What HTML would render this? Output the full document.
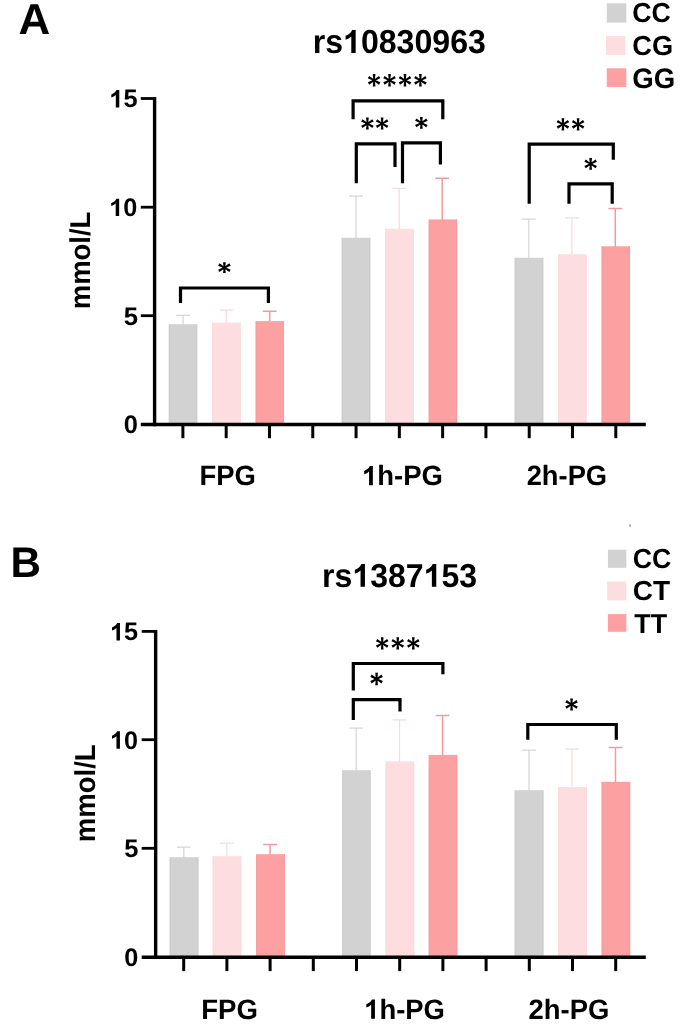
<!DOCTYPE html>
<html><head><meta charset="utf-8"><title>Figure</title>
<style>
html,body{margin:0;padding:0;background:#fff;}
body{width:685px;height:1032px;overflow:hidden;font-family:"Liberation Sans",sans-serif;}
svg{display:block;will-change:transform;}
svg text{font-family:"Liberation Sans",sans-serif;font-weight:700;fill:#000;text-rendering:geometricPrecision;}
</style></head><body>
<svg width="685" height="1032" viewBox="0 0 685 1032">
<rect width="685" height="1032" fill="#fff"/>
<rect x="606.80" y="3.30" width="19.50" height="19.30" fill="#d2d2d2"/>
<rect x="606.00" y="36.10" width="19.30" height="18.80" fill="#feDDe0"/>
<rect x="606.80" y="68.30" width="19.50" height="18.70" fill="#fda0a1"/>
<rect x="607.90" y="549.70" width="18.40" height="18.10" fill="#d2d2d2"/>
<rect x="607.20" y="581.50" width="19.10" height="18.80" fill="#feDDe0"/>
<rect x="607.90" y="614.10" width="18.40" height="17.70" fill="#fda0a1"/>
<path d="M183.10 324.70V315.30M176.20 315.30H190.00" stroke="#d6d6d6" stroke-width="1.25" fill="none"/>
<rect x="168.80" y="324.20" width="28.40" height="100.30" fill="#d2d2d2"/>
<path d="M169.25 324.20V424.50M196.75 324.20V424.50" stroke="#c4c4c4" stroke-width="0.9" stroke-opacity="0.6" fill="none"/>
<path d="M226.30 323.20V310.20M219.40 310.20H233.20" stroke="#fbd9dc" stroke-width="1.25" fill="none"/>
<rect x="212.20" y="322.70" width="28.50" height="101.80" fill="#feDDe0"/>
<path d="M212.65 322.70V424.50M240.25 322.70V424.50" stroke="#f8d2d6" stroke-width="0.9" stroke-opacity="0.6" fill="none"/>
<path d="M269.70 321.60V311.20M262.80 311.20H276.60" stroke="#f29a9e" stroke-width="1.5" fill="none"/>
<rect x="255.60" y="321.10" width="28.40" height="103.40" fill="#fda0a1"/>
<path d="M256.05 321.10V424.50M283.55 321.10V424.50" stroke="#ee9498" stroke-width="0.9" stroke-opacity="0.6" fill="none"/>
<path d="M356.00 238.30V196.20M349.10 196.20H362.90" stroke="#d6d6d6" stroke-width="1.25" fill="none"/>
<rect x="341.70" y="237.80" width="28.60" height="186.70" fill="#d2d2d2"/>
<path d="M342.15 237.80V424.50M369.85 237.80V424.50" stroke="#c4c4c4" stroke-width="0.9" stroke-opacity="0.6" fill="none"/>
<path d="M399.20 229.30V188.40M392.30 188.40H406.10" stroke="#fbd9dc" stroke-width="1.25" fill="none"/>
<rect x="385.20" y="228.80" width="28.60" height="195.70" fill="#feDDe0"/>
<path d="M385.65 228.80V424.50M413.35 228.80V424.50" stroke="#f8d2d6" stroke-width="0.9" stroke-opacity="0.6" fill="none"/>
<path d="M442.20 219.90V178.20M435.30 178.20H449.10" stroke="#f29a9e" stroke-width="1.5" fill="none"/>
<rect x="428.70" y="219.40" width="28.40" height="205.10" fill="#fda0a1"/>
<path d="M429.15 219.40V424.50M456.65 219.40V424.50" stroke="#ee9498" stroke-width="0.9" stroke-opacity="0.6" fill="none"/>
<path d="M528.80 258.30V219.20M521.90 219.20H535.70" stroke="#d6d6d6" stroke-width="1.25" fill="none"/>
<rect x="514.70" y="257.80" width="28.60" height="166.70" fill="#d2d2d2"/>
<path d="M515.15 257.80V424.50M542.85 257.80V424.50" stroke="#c4c4c4" stroke-width="0.9" stroke-opacity="0.6" fill="none"/>
<path d="M571.90 254.80V217.80M565.00 217.80H578.80" stroke="#fbd9dc" stroke-width="1.25" fill="none"/>
<rect x="558.20" y="254.30" width="28.40" height="170.20" fill="#feDDe0"/>
<path d="M558.65 254.30V424.50M586.15 254.30V424.50" stroke="#f8d2d6" stroke-width="0.9" stroke-opacity="0.6" fill="none"/>
<path d="M615.30 246.80V208.60M608.40 208.60H622.20" stroke="#f29a9e" stroke-width="1.5" fill="none"/>
<rect x="601.60" y="246.30" width="28.40" height="178.20" fill="#fda0a1"/>
<path d="M602.05 246.30V424.50M629.55 246.30V424.50" stroke="#ee9498" stroke-width="0.9" stroke-opacity="0.6" fill="none"/>
<path d="M154.60 97.05L154.60 426.20" stroke="#000" stroke-width="3.4" fill="none"/>
<path d="M140.80 424.50L645.80 424.50" stroke="#000" stroke-width="3.4" fill="none"/>
<path d="M140.80 98.50L154.60 98.50" stroke="#000" stroke-width="2.8" fill="none"/>
<path d="M140.80 207.20L154.60 207.20" stroke="#000" stroke-width="2.8" fill="none"/>
<path d="M140.80 315.70L154.60 315.70" stroke="#000" stroke-width="2.8" fill="none"/>
<path d="M182.90 424.50L182.90 438.20" stroke="#000" stroke-width="3" fill="none"/>
<path d="M226.19 424.50L226.19 438.20" stroke="#000" stroke-width="3" fill="none"/>
<path d="M269.48 424.50L269.48 438.20" stroke="#000" stroke-width="3" fill="none"/>
<path d="M312.77 424.50L312.77 438.20" stroke="#000" stroke-width="3" fill="none"/>
<path d="M356.06 424.50L356.06 438.20" stroke="#000" stroke-width="3" fill="none"/>
<path d="M399.35 424.50L399.35 438.20" stroke="#000" stroke-width="3" fill="none"/>
<path d="M442.64 424.50L442.64 438.20" stroke="#000" stroke-width="3" fill="none"/>
<path d="M485.93 424.50L485.93 438.20" stroke="#000" stroke-width="3" fill="none"/>
<path d="M529.22 424.50L529.22 438.20" stroke="#000" stroke-width="3" fill="none"/>
<path d="M572.51 424.50L572.51 438.20" stroke="#000" stroke-width="3" fill="none"/>
<path d="M615.80 424.50L615.80 438.20" stroke="#000" stroke-width="3" fill="none"/>
<path d="M180.50 303.10V288.00H268.40V303.10" stroke="#000" stroke-width="3.2" fill="none" stroke-linejoin="miter"/>
<path d="M353.10 119.30V100.80H442.80V119.30" stroke="#000" stroke-width="3.2" fill="none" stroke-linejoin="miter"/>
<path d="M356.30 183.20V143.80H395.00V167.00" stroke="#000" stroke-width="3.2" fill="none" stroke-linejoin="miter"/>
<path d="M402.50 183.20V142.90H440.40V164.40" stroke="#000" stroke-width="3.2" fill="none" stroke-linejoin="miter"/>
<path d="M529.20 203.80V144.10H613.30V159.70" stroke="#000" stroke-width="3.2" fill="none" stroke-linejoin="miter"/>
<path d="M569.00 203.80V183.80H612.20V203.80" stroke="#000" stroke-width="3.2" fill="none" stroke-linejoin="miter"/>
<path d="M225.15 267.70L225.75 262.30L223.05 262.30L223.65 267.70ZM224.77 268.35L230.67 265.64L229.32 263.30L224.02 267.05ZM224.77 267.05L219.47 263.30L218.12 265.64L224.02 268.35ZM223.65 267.70L223.05 273.10L225.75 273.10L225.15 267.70ZM224.02 267.05L218.12 269.76L219.47 272.10L224.77 268.35ZM224.02 268.35L229.32 272.10L230.67 269.76L224.77 267.05Z" fill="#000"/><circle cx="224.40" cy="267.70" r="1.9" fill="#000"/>
<path d="M374.85 80.30L375.45 74.00L372.75 74.00L373.35 80.30ZM374.47 80.95L380.38 78.24L379.02 75.90L373.72 79.65ZM374.47 79.65L369.17 75.90L367.82 78.24L373.72 80.95ZM373.35 80.30L372.75 86.60L375.45 86.60L374.85 80.30ZM373.72 79.65L367.82 82.36L369.17 84.70L374.47 80.95ZM373.72 80.95L379.02 84.70L380.38 82.36L374.47 79.65Z" fill="#000"/><circle cx="374.10" cy="80.30" r="1.9" fill="#000"/>
<path d="M390.28 80.30L390.88 74.00L388.18 74.00L388.78 80.30ZM389.91 80.95L395.81 78.24L394.46 75.90L389.16 79.65ZM389.91 79.65L384.61 75.90L383.26 78.24L389.16 80.95ZM388.78 80.30L388.18 86.60L390.88 86.60L390.28 80.30ZM389.16 79.65L383.26 82.36L384.61 84.70L389.91 80.95ZM389.16 80.95L394.46 84.70L395.81 82.36L389.91 79.65Z" fill="#000"/><circle cx="389.53" cy="80.30" r="1.9" fill="#000"/>
<path d="M405.72 80.30L406.32 74.00L403.62 74.00L404.22 80.30ZM405.34 80.95L411.24 78.24L409.89 75.90L404.59 79.65ZM405.34 79.65L400.04 75.90L398.69 78.24L404.59 80.95ZM404.22 80.30L403.62 86.60L406.32 86.60L405.72 80.30ZM404.59 79.65L398.69 82.36L400.04 84.70L405.34 80.95ZM404.59 80.95L409.89 84.70L411.24 82.36L405.34 79.65Z" fill="#000"/><circle cx="404.97" cy="80.30" r="1.9" fill="#000"/>
<path d="M421.15 80.30L421.75 74.00L419.05 74.00L419.65 80.30ZM420.78 80.95L426.68 78.24L425.33 75.90L420.03 79.65ZM420.78 79.65L415.48 75.90L414.12 78.24L420.03 80.95ZM419.65 80.30L419.05 86.60L421.75 86.60L421.15 80.30ZM420.03 79.65L414.12 82.36L415.48 84.70L420.78 80.95ZM420.03 80.95L425.33 84.70L426.68 82.36L420.78 79.65Z" fill="#000"/><circle cx="420.40" cy="80.30" r="1.9" fill="#000"/>
<path d="M368.15 123.60L368.75 117.60L366.05 117.60L366.65 123.60ZM367.77 124.25L373.68 121.54L372.32 119.20L367.02 122.95ZM367.77 122.95L362.47 119.20L361.12 121.54L367.02 124.25ZM366.65 123.60L366.05 129.60L368.75 129.60L368.15 123.60ZM367.02 122.95L361.12 125.66L362.47 128.00L367.77 124.25ZM367.02 124.25L372.32 128.00L373.68 125.66L367.77 122.95Z" fill="#000"/><circle cx="367.40" cy="123.60" r="1.9" fill="#000"/>
<path d="M382.85 123.60L383.45 117.60L380.75 117.60L381.35 123.60ZM382.48 124.25L388.38 121.54L387.03 119.20L381.73 122.95ZM382.48 122.95L377.18 119.20L375.82 121.54L381.73 124.25ZM381.35 123.60L380.75 129.60L383.45 129.60L382.85 123.60ZM381.73 122.95L375.82 125.66L377.18 128.00L382.48 124.25ZM381.73 124.25L387.03 128.00L388.38 125.66L382.48 122.95Z" fill="#000"/><circle cx="382.10" cy="123.60" r="1.9" fill="#000"/>
<path d="M422.10 122.90L422.70 117.00L420.00 117.00L420.60 122.90ZM421.73 123.55L427.63 120.84L426.28 118.50L420.98 122.25ZM421.73 122.25L416.43 118.50L415.07 120.84L420.98 123.55ZM420.60 122.90L420.00 128.80L422.70 128.80L422.10 122.90ZM420.98 122.25L415.07 124.96L416.43 127.30L421.73 123.55ZM420.98 123.55L426.28 127.30L427.63 124.96L421.73 122.25Z" fill="#000"/><circle cx="421.35" cy="122.90" r="1.9" fill="#000"/>
<path d="M563.65 124.30L564.25 118.20L561.55 118.20L562.15 124.30ZM563.28 124.95L569.18 122.24L567.83 119.90L562.53 123.65ZM563.28 123.65L557.98 119.90L556.63 122.24L562.53 124.95ZM562.15 124.30L561.55 130.40L564.25 130.40L563.65 124.30ZM562.53 123.65L556.63 126.36L557.98 128.70L563.28 124.95ZM562.53 124.95L567.83 128.70L569.18 126.36L563.28 123.65Z" fill="#000"/><circle cx="562.90" cy="124.30" r="1.9" fill="#000"/>
<path d="M578.85 124.30L579.45 118.20L576.75 118.20L577.35 124.30ZM578.48 124.95L584.38 122.24L583.03 119.90L577.73 123.65ZM578.48 123.65L573.17 119.90L571.83 122.24L577.73 124.95ZM577.35 124.30L576.75 130.40L579.45 130.40L578.85 124.30ZM577.73 123.65L571.83 126.36L573.17 128.70L578.48 124.95ZM577.73 124.95L583.03 128.70L584.38 126.36L578.48 123.65Z" fill="#000"/><circle cx="578.10" cy="124.30" r="1.9" fill="#000"/>
<path d="M591.40 163.90L592.00 158.00L589.30 158.00L589.90 163.90ZM591.02 164.55L596.92 161.84L595.58 159.50L590.27 163.25ZM591.02 163.25L585.72 159.50L584.38 161.84L590.27 164.55ZM589.90 163.90L589.30 169.80L592.00 169.80L591.40 163.90ZM590.27 163.25L584.38 165.96L585.72 168.30L591.02 164.55ZM590.27 164.55L595.58 168.30L596.92 165.96L591.02 163.25Z" fill="#000"/><circle cx="590.65" cy="163.90" r="1.9" fill="#000"/>
<g transform="translate(18.50 33.70) scale(1.0123 1)"><text font-size="43.35" x="0.00" y="0">A</text></g>
<g transform="translate(312.71 53.00) scale(0.9636 1)"><text font-size="33.31" x="0.00 12.96" y="0">rs</text><path transform="translate(31.49 0) scale(0.01626 -0.01556)" d="M806 0H525V1059Q371 915 162 846V1101Q272 1137 401 1237.5T578 1472H806Z" fill="#000"/><text font-size="33.31" x="50.01 68.54 87.07 105.59 124.12 142.64 161.17" y="0">0830963</text></g>
<g transform="translate(632.23 22.32) scale(0.9695 1)"><text font-size="27.56" x="0.00 19.90" y="0">CC</text></g>
<g transform="translate(632.21 54.82) scale(0.9894 1)"><text font-size="27.56" x="0.00 19.90" y="0">CG</text></g>
<g transform="translate(632.20 87.72) scale(0.9813 1)"><text font-size="28.13" x="0.00 21.88" y="0">GG</text></g>
<g transform="translate(109.29 107.40) scale(1.0030 1)"><path transform="translate(0.00 0) scale(0.01236 -0.01182)" d="M806 0H525V1059Q371 915 162 846V1101Q272 1137 401 1237.5T578 1472H806Z" fill="#000"/><text font-size="25.31" x="14.08" y="0">5</text></g>
<g transform="translate(109.20 216.10) scale(0.9997 1)"><path transform="translate(0.00 0) scale(0.01236 -0.01182)" d="M806 0H525V1059Q371 915 162 846V1101Q272 1137 401 1237.5T578 1472H806Z" fill="#000"/><text font-size="25.31" x="14.08" y="0">0</text></g>
<g transform="translate(123.67 324.60) scale(1.0137 1)"><text font-size="25.31" x="0.00" y="0">5</text></g>
<g transform="translate(123.78 433.20) scale(1.0065 1)"><text font-size="25.31" x="0.00" y="0">0</text></g>
<g transform="translate(199.45 485.30) scale(0.9794 1)"><text font-size="28.00" x="0.00 17.10 35.78" y="0">FPG</text></g>
<g transform="translate(362.03 485.30) scale(0.9811 1)"><path transform="translate(0.00 0) scale(0.01367 -0.01308)" d="M806 0H525V1059Q371 915 162 846V1101Q272 1137 401 1237.5T578 1472H806Z" fill="#000"/><text font-size="28.00" x="15.57 32.68 42.00 60.68" y="0">h-PG</text></g>
<g transform="translate(526.64 485.30) scale(0.9760 1)"><text font-size="28.00" x="0.00 15.57 32.68 42.00 60.68" y="0">2h-PG</text></g>
<g transform="translate(90.30 309.18) rotate(-90) scale(0.9572 1)"><text font-size="28.65" x="0.00 25.48 50.96 68.46 76.42 84.39" y="0">mmol/L</text></g>
<path d="M183.80 857.70V847.10M176.90 847.10H190.70" stroke="#d6d6d6" stroke-width="1.25" fill="none"/>
<rect x="169.70" y="857.20" width="28.70" height="100.05" fill="#d2d2d2"/>
<path d="M170.15 857.20V957.25M197.95 857.20V957.25" stroke="#c4c4c4" stroke-width="0.9" stroke-opacity="0.6" fill="none"/>
<path d="M226.80 856.70V843.20M219.90 843.20H233.70" stroke="#fbd9dc" stroke-width="1.25" fill="none"/>
<rect x="212.70" y="856.20" width="28.60" height="101.05" fill="#feDDe0"/>
<path d="M213.15 856.20V957.25M240.85 856.20V957.25" stroke="#f8d2d6" stroke-width="0.9" stroke-opacity="0.6" fill="none"/>
<path d="M270.10 854.70V844.40M263.20 844.40H277.00" stroke="#f29a9e" stroke-width="1.5" fill="none"/>
<rect x="256.10" y="854.20" width="28.90" height="103.05" fill="#fda0a1"/>
<path d="M256.55 854.20V957.25M284.55 854.20V957.25" stroke="#ee9498" stroke-width="0.9" stroke-opacity="0.6" fill="none"/>
<path d="M356.20 770.70V728.20M349.30 728.20H363.10" stroke="#d6d6d6" stroke-width="1.25" fill="none"/>
<rect x="342.30" y="770.20" width="28.30" height="187.05" fill="#d2d2d2"/>
<path d="M342.75 770.20V957.25M370.15 770.20V957.25" stroke="#c4c4c4" stroke-width="0.9" stroke-opacity="0.6" fill="none"/>
<path d="M399.50 761.90V719.80M392.60 719.80H406.40" stroke="#fbd9dc" stroke-width="1.25" fill="none"/>
<rect x="385.60" y="761.40" width="28.60" height="195.85" fill="#feDDe0"/>
<path d="M386.05 761.40V957.25M413.75 761.40V957.25" stroke="#f8d2d6" stroke-width="0.9" stroke-opacity="0.6" fill="none"/>
<path d="M442.60 755.40V715.50M435.70 715.50H449.50" stroke="#f29a9e" stroke-width="1.5" fill="none"/>
<rect x="428.70" y="754.90" width="28.60" height="202.35" fill="#fda0a1"/>
<path d="M429.15 754.90V957.25M456.85 754.90V957.25" stroke="#ee9498" stroke-width="0.9" stroke-opacity="0.6" fill="none"/>
<path d="M529.00 790.70V750.20M522.10 750.20H535.90" stroke="#d6d6d6" stroke-width="1.25" fill="none"/>
<rect x="514.70" y="790.20" width="28.80" height="167.05" fill="#d2d2d2"/>
<path d="M515.15 790.20V957.25M543.05 790.20V957.25" stroke="#c4c4c4" stroke-width="0.9" stroke-opacity="0.6" fill="none"/>
<path d="M572.00 787.60V749.00M565.10 749.00H578.90" stroke="#fbd9dc" stroke-width="1.25" fill="none"/>
<rect x="558.20" y="787.10" width="28.70" height="170.15" fill="#feDDe0"/>
<path d="M558.65 787.10V957.25M586.45 787.10V957.25" stroke="#f8d2d6" stroke-width="0.9" stroke-opacity="0.6" fill="none"/>
<path d="M615.50 782.30V747.40M608.60 747.40H622.40" stroke="#f29a9e" stroke-width="1.5" fill="none"/>
<rect x="601.60" y="781.80" width="28.60" height="175.45" fill="#fda0a1"/>
<path d="M602.05 781.80V957.25M629.75 781.80V957.25" stroke="#ee9498" stroke-width="0.9" stroke-opacity="0.6" fill="none"/>
<path d="M155.65 629.95L155.65 958.95" stroke="#000" stroke-width="3.4" fill="none"/>
<path d="M141.70 957.25L645.80 957.25" stroke="#000" stroke-width="3.4" fill="none"/>
<path d="M141.70 631.40L155.65 631.40" stroke="#000" stroke-width="2.8" fill="none"/>
<path d="M141.70 739.70L155.65 739.70" stroke="#000" stroke-width="2.8" fill="none"/>
<path d="M141.70 848.30L155.65 848.30" stroke="#000" stroke-width="2.8" fill="none"/>
<path d="M183.70 957.25L183.70 971.10" stroke="#000" stroke-width="3" fill="none"/>
<path d="M226.90 957.25L226.90 971.10" stroke="#000" stroke-width="3" fill="none"/>
<path d="M270.10 957.25L270.10 971.10" stroke="#000" stroke-width="3" fill="none"/>
<path d="M313.30 957.25L313.30 971.10" stroke="#000" stroke-width="3" fill="none"/>
<path d="M356.50 957.25L356.50 971.10" stroke="#000" stroke-width="3" fill="none"/>
<path d="M399.70 957.25L399.70 971.10" stroke="#000" stroke-width="3" fill="none"/>
<path d="M442.90 957.25L442.90 971.10" stroke="#000" stroke-width="3" fill="none"/>
<path d="M486.10 957.25L486.10 971.10" stroke="#000" stroke-width="3" fill="none"/>
<path d="M529.30 957.25L529.30 971.10" stroke="#000" stroke-width="3" fill="none"/>
<path d="M572.50 957.25L572.50 971.10" stroke="#000" stroke-width="3" fill="none"/>
<path d="M615.70 957.25L615.70 971.10" stroke="#000" stroke-width="3" fill="none"/>
<path d="M353.30 690.50V663.50H442.90V674.20" stroke="#000" stroke-width="3.2" fill="none" stroke-linejoin="miter"/>
<path d="M353.30 720.10V699.60H400.00V711.60" stroke="#000" stroke-width="3.2" fill="none" stroke-linejoin="miter"/>
<path d="M527.80 739.70V724.50H616.30V739.70" stroke="#000" stroke-width="3.2" fill="none" stroke-linejoin="miter"/>
<path d="M382.95 643.35L383.55 637.20L380.85 637.20L381.45 643.35ZM382.57 644.00L388.48 641.29L387.12 638.95L381.82 642.70ZM382.57 642.70L377.27 638.95L375.92 641.29L381.82 644.00ZM381.45 643.35L380.85 649.50L383.55 649.50L382.95 643.35ZM381.82 642.70L375.92 645.41L377.27 647.75L382.57 644.00ZM381.82 644.00L387.12 647.75L388.48 645.41L382.57 642.70Z" fill="#000"/><circle cx="382.20" cy="643.35" r="1.9" fill="#000"/>
<path d="M398.50 643.35L399.10 637.20L396.40 637.20L397.00 643.35ZM398.12 644.00L404.03 641.29L402.68 638.95L397.38 642.70ZM398.12 642.70L392.82 638.95L391.47 641.29L397.38 644.00ZM397.00 643.35L396.40 649.50L399.10 649.50L398.50 643.35ZM397.38 642.70L391.47 645.41L392.82 647.75L398.12 644.00ZM397.38 644.00L402.68 647.75L404.03 645.41L398.12 642.70Z" fill="#000"/><circle cx="397.75" cy="643.35" r="1.9" fill="#000"/>
<path d="M414.05 643.35L414.65 637.20L411.95 637.20L412.55 643.35ZM413.68 644.00L419.58 641.29L418.23 638.95L412.93 642.70ZM413.68 642.70L408.38 638.95L407.02 641.29L412.93 644.00ZM412.55 643.35L411.95 649.50L414.65 649.50L414.05 643.35ZM412.93 642.70L407.02 645.41L408.38 647.75L413.68 644.00ZM412.93 644.00L418.23 647.75L419.58 645.41L413.68 642.70Z" fill="#000"/><circle cx="413.30" cy="643.35" r="1.9" fill="#000"/>
<path d="M377.35 679.00L377.95 672.80L375.25 672.80L375.85 679.00ZM376.98 679.65L382.88 676.94L381.53 674.60L376.23 678.35ZM376.98 678.35L371.68 674.60L370.32 676.94L376.23 679.65ZM375.85 679.00L375.25 685.20L377.95 685.20L377.35 679.00ZM376.23 678.35L370.32 681.06L371.68 683.40L376.98 679.65ZM376.23 679.65L381.53 683.40L382.88 681.06L376.98 678.35Z" fill="#000"/><circle cx="376.60" cy="679.00" r="1.9" fill="#000"/>
<path d="M572.30 704.45L572.90 698.40L570.20 698.40L570.80 704.45ZM571.92 705.10L577.82 702.39L576.48 700.05L571.17 703.80ZM571.92 703.80L566.62 700.05L565.27 702.39L571.17 705.10ZM570.80 704.45L570.20 710.50L572.90 710.50L572.30 704.45ZM571.17 703.80L565.27 706.51L566.62 708.85L571.92 705.10ZM571.17 705.10L576.48 708.85L577.82 706.51L571.92 703.80Z" fill="#000"/><circle cx="571.55" cy="704.45" r="1.9" fill="#000"/>
<g transform="translate(10.46 576.80) scale(0.9852 1)"><text font-size="42.76" x="0.00" y="0">B</text></g>
<g transform="translate(322.02 586.80) scale(0.9668 1)"><text font-size="33.16" x="0.00 12.91" y="0">rs</text><path transform="translate(31.35 0) scale(0.01619 -0.01549)" d="M806 0H525V1059Q371 915 162 846V1101Q272 1137 401 1237.5T578 1472H806Z" fill="#000"/><text font-size="33.16" x="49.80 68.24 86.69" y="0">387</text><path transform="translate(105.13 0) scale(0.01619 -0.01549)" d="M806 0H525V1059Q371 915 162 846V1101Q272 1137 401 1237.5T578 1472H806Z" fill="#000"/><text font-size="33.16" x="123.57 142.02" y="0">53</text></g>
<g transform="translate(632.83 567.82) scale(0.9646 1)"><text font-size="27.70" x="0.00 20.01" y="0">CC</text></g>
<g transform="translate(632.78 600.40) scale(1.0185 1)"><text font-size="27.49" x="0.00 19.85" y="0">CT</text></g>
<g transform="translate(634.36 632.90) scale(0.9826 1)"><text font-size="27.35" x="0.00 16.70" y="0">TT</text></g>
<g transform="translate(110.00 640.40) scale(0.9990 1)"><path transform="translate(0.00 0) scale(0.01236 -0.01182)" d="M806 0H525V1059Q371 915 162 846V1101Q272 1137 401 1237.5T578 1472H806Z" fill="#000"/><text font-size="25.31" x="14.08" y="0">5</text></g>
<g transform="translate(110.01 748.70) scale(0.9957 1)"><path transform="translate(0.00 0) scale(0.01236 -0.01182)" d="M806 0H525V1059Q371 915 162 846V1101Q272 1137 401 1237.5T578 1472H806Z" fill="#000"/><text font-size="25.31" x="14.08" y="0">0</text></g>
<g transform="translate(124.27 857.30) scale(1.0057 1)"><text font-size="25.31" x="0.00" y="0">5</text></g>
<g transform="translate(124.29 966.00) scale(0.9982 1)"><text font-size="25.31" x="0.00" y="0">0</text></g>
<g transform="translate(201.24 1018.70) scale(0.9824 1)"><text font-size="28.07" x="0.00 17.15 35.87" y="0">FPG</text></g>
<g transform="translate(364.13 1018.70) scale(0.9773 1)"><path transform="translate(0.00 0) scale(0.01371 -0.01311)" d="M806 0H525V1059Q371 915 162 846V1101Q272 1137 401 1237.5T578 1472H806Z" fill="#000"/><text font-size="28.07" x="15.61 32.76 42.11 60.83" y="0">h-PG</text></g>
<g transform="translate(528.54 1018.70) scale(0.9772 1)"><text font-size="28.07" x="0.00 15.61 32.76 42.11 60.83" y="0">2h-PG</text></g>
<g transform="translate(94.90 842.19) rotate(-90) scale(0.9554 1)"><text font-size="28.80" x="0.00 25.61 51.22 68.81 76.81 84.81" y="0">mmol/L</text></g>
<rect x="629.3" y="524.2" width="1.4" height="2.8" fill="#9a9a9a"/>
</svg>
</body></html>
